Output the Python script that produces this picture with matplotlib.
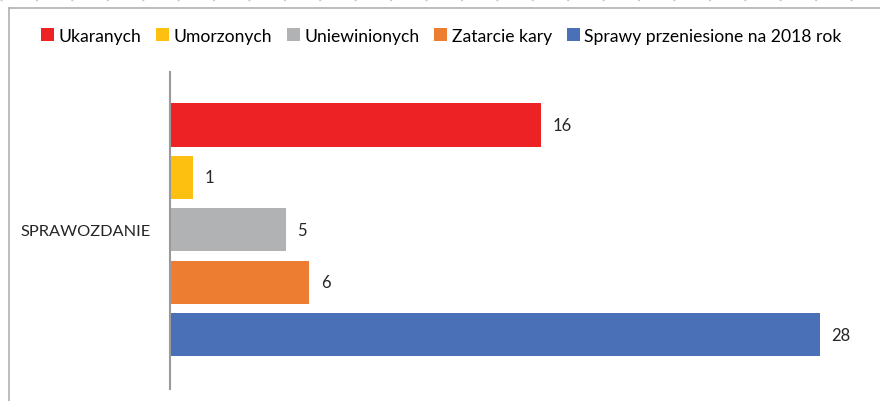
import matplotlib.pyplot as plt
from matplotlib.lines import Line2D

# Data
category = 'SPRAWOZDANIE'
series = ['Ukaranych', 'Umorzonych', 'Uniewinionych', 'Zatarcie kary',
          'Sprawy przeniesione na 2018 rok']
values = [16, 1, 5, 6, 28]
colors = ['#ED2224', '#FDC010', '#B1B2B4', '#ED7D31', '#4A70B7']

plt.rcParams['font.family'] = ['Lato', 'DejaVu Sans']

fig = plt.figure(figsize=(8.8, 4.02), dpi=100)
ax = fig.add_axes([170 / 880, 1 - 390 / 402, 696 / 880, 317 / 402])

pos = list(range(len(values)))
bars = ax.barh(pos, values, height=0.82, color=colors, label=series)

for b, v in zip(bars, values):
    ax.text(b.get_width() + 0.5, b.get_y() + b.get_height() / 2, str(v),
            va='center', ha='left', fontsize=12, color='#262626')

ax.set_xlim(0, 30)
ax.set_ylim(5.03, -1.01)
ax.set_xticks([])
ax.set_yticks([2])
ax.set_yticklabels([category], fontsize=11.8, color='#262626')
ax.tick_params(axis='y', length=0, pad=14)
for s in ['top', 'right', 'bottom']:
    ax.spines[s].set_visible(False)
ax.spines['left'].set_color('#9a9a9a')
ax.spines['left'].set_linewidth(1.5)

fig.legend(handles=bars, labels=series, loc='center', bbox_to_anchor=(441 / 880, 1 - 37 / 402),
           ncol=5, frameon=False, fontsize=12.6, handlelength=0.75, handleheight=0.75,
           handletextpad=0.25, columnspacing=0.85)

# outer frame of the chart area
fig.add_artist(Line2D([9 / 880, 9 / 880], [0, 1 - 9 / 402], color='#b0b0b0', lw=1.2))
fig.add_artist(Line2D([9 / 880, 1], [1 - 9 / 402, 1 - 9 / 402], color='#b0b0b0', lw=1.2))
fig.add_artist(Line2D([0, 1], [1 - 1 / 402, 1 - 1 / 402], color='#c8c8c8', lw=1.0,
                      linestyle=(0, (1.5, 24))))

fig.savefig('out.png', dpi=100)
